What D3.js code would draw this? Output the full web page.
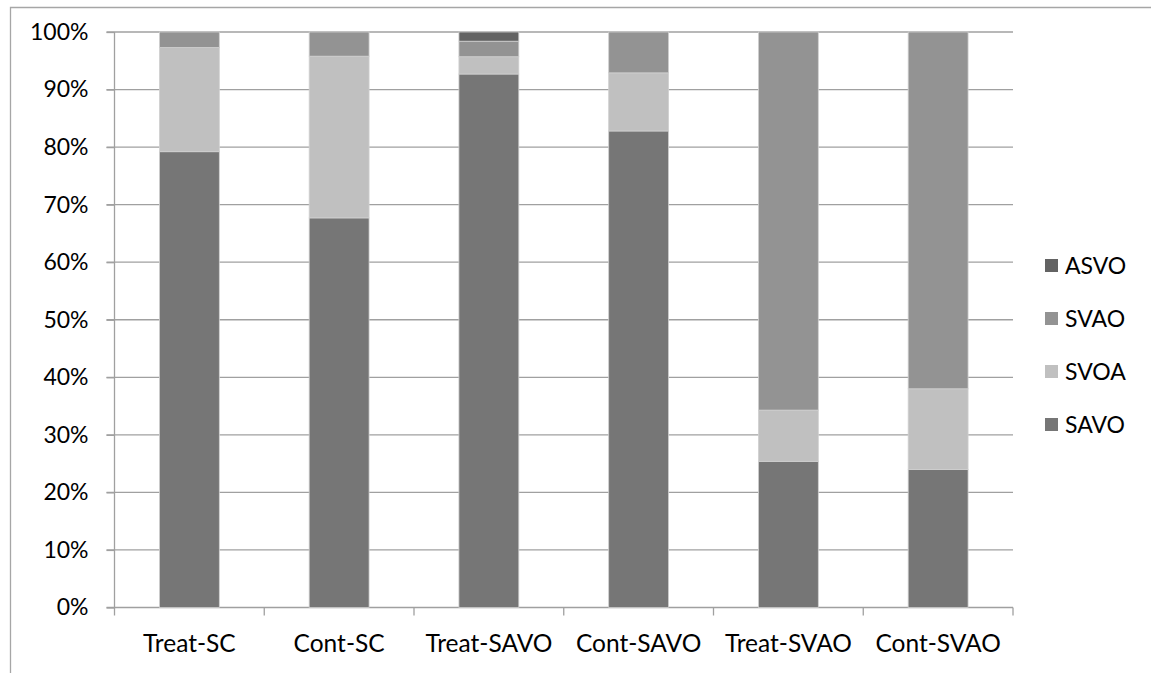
<!DOCTYPE html>
<html><head><meta charset="utf-8">
<script src="https://cdn.jsdelivr.net/npm/d3@7"></script>
<style>body{margin:0;background:#fff}svg{display:block}text{font-family:Lato,"Open Sans",sans-serif;fill:#000}</style>
</head><body><svg id="c" width="1151" height="673"></svg>
<script>
const categories = ["Treat-SC","Cont-SC","Treat-SAVO","Cont-SAVO","Treat-SVAO","Cont-SVAO"];
const seriesNames = ["SAVO","SVOA","SVAO","ASVO"];
const SAVO = [79.2, 67.7, 92.7, 82.8, 25.4, 24.0];
const SVOA = [18.1, 28.1, 3.0, 10.1, 8.9, 14.0];
const SVAO = [2.7, 4.2, 2.7, 7.1, 65.7, 62.0];
const ASVO = [0, 0, 1.6, 0, 0, 0];
const yTicks = [0,10,20,30,40,50,60,70,80,90,100];
const colors = {SAVO:"#767676", SVOA:"#c0c0c0", SVAO:"#939393", ASVO:"#636363"};

const vals = {SAVO, SVOA, SVAO, ASVO};
const rows = categories.map((c,i)=>{const r={cat:c}; seriesNames.forEach(s=>r[s]=vals[s][i]); return r;});
const stack = d3.stack().keys(seriesNames)(rows);

const svg = d3.select("#c");
const L=114.5, R=1013, T=32, B=607.5;
const x = d3.scaleBand().domain(categories).range([L,R]).paddingInner(0.6).paddingOuter(0.3);
const y = d3.scaleLinear().domain([0,100]).range([B,T]);
const FS = "23px";

// frame
svg.append("path").attr("d","M10.5,673 V7.5 H1151").attr("fill","none").attr("stroke","#a6a6a6").attr("stroke-width",1.3);

// gridlines
svg.append("g").selectAll("line").data(yTicks.filter(d=>d>0)).join("line")
  .attr("x1",L-8).attr("x2",R).attr("y1",d=>y(d)).attr("y2",d=>y(d))
  .attr("stroke","#a0a0a0").attr("stroke-width",1.3);

// y axis
const ya = svg.append("g").attr("transform",`translate(${L},0)`)
  .call(d3.axisLeft(y).tickValues(yTicks).tickSize(8).tickPadding(18).tickFormat(d=>d+"%"));
ya.select(".domain").attr("stroke","#a0a0a0").attr("stroke-width",1.3).attr("d",`M-8,${B}H0V${T}`);
ya.selectAll(".tick line").attr("stroke","#a0a0a0").attr("stroke-width",1.3);
ya.selectAll("text").style("font-size",FS).attr("fill","#000").style("font-family","Lato, sans-serif");

// x axis
const xa = svg.append("g").attr("transform",`translate(0,${B})`)
  .call(d3.axisBottom(x).tickSize(0).tickPadding(27));
xa.select(".domain").attr("stroke","#a0a0a0").attr("stroke-width",1.3).attr("d",`M${L},0H${R}`);
xa.selectAll("text").style("font-size","24.5px").attr("fill","#000").style("font-family","Lato, sans-serif");
const bounds = d3.range(categories.length+1).map(i=>L+i*(R-L)/categories.length);
xa.selectAll(".sep").data(bounds).join("line").attr("class","sep")
  .attr("x1",d=>d).attr("x2",d=>d).attr("y1",0).attr("y2",8)
  .attr("stroke","#a0a0a0").attr("stroke-width",1.3);

// bars
svg.append("g").selectAll("g").data(stack).join("g").attr("fill",d=>colors[d.key])
  .selectAll("rect").data(d=>d).join("rect")
  .attr("x",d=>x(d.data.cat)).attr("width",x.bandwidth())
  .attr("y",d=>y(d[1])).attr("height",d=>Math.max(0,y(d[0])-y(d[1])))
  .attr("stroke",d=> (d[1]-d[0])>0 ? "#d0d0d0":"none").attr("stroke-width",0.8);

// legend
const legendOrder = ["ASVO","SVAO","SVOA","SAVO"];
const lg = svg.append("g");
const ly = d3.scalePoint().domain(legendOrder).range([266,425]);
lg.selectAll("rect").data(legendOrder).join("rect")
  .attr("x",1045).attr("y",d=>ly(d)-7).attr("width",13).attr("height",13).attr("fill",d=>colors[d]);
lg.selectAll("text").data(legendOrder).join("text")
  .attr("x",1065).attr("y",d=>ly(d)).attr("dy","0.35em").style("font-size",FS).text(d=>d);
</script></body></html>
